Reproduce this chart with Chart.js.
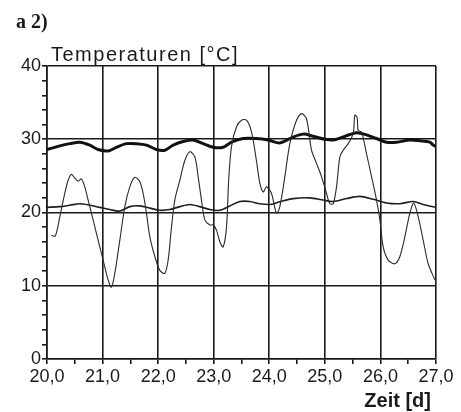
<!DOCTYPE html>
<html>
<head>
<meta charset="utf-8">
<script src="https://cdn.jsdelivr.net/npm/chart.js@4.4.1/dist/chart.umd.min.js"></script>
<style>
  html, body { margin: 0; padding: 0; background: #fff; }
  #wrap { width: 461px; height: 412px; position: relative; }
</style>
</head>
<body>
<div id="wrap"><canvas id="c" width="461" height="412"></canvas></div>
<script>
// ---- data ----
const panelLabel = 'a 2)';
const yTitle = 'Temperaturen [°C]';
const xTitle = 'Zeit [d]';

const xMin = 20, xMax = 27;
const yMin = 0, yMax = 40;

// thick line (~29-30 °C)
const roomDays = [20.0, 20.23, 20.41, 20.59, 20.77, 20.92, 21.10, 21.25, 21.43, 21.61, 21.79, 21.97, 22.12, 22.27, 22.45, 22.63, 22.81, 22.99, 23.17, 23.32, 23.53, 23.77, 23.98, 24.19, 24.40, 24.61, 24.79, 25.00, 25.15, 25.36, 25.57, 25.75, 25.93, 26.11, 26.29, 26.53, 26.71, 26.89, 26.95, 27.0];
const roomTemp = [28.6, 29.1, 29.4, 29.6, 29.2, 28.6, 28.4, 28.9, 29.4, 29.4, 29.2, 28.6, 28.5, 29.2, 29.7, 29.9, 29.4, 28.9, 28.9, 29.6, 30.1, 30.1, 29.9, 29.5, 30.2, 30.7, 30.4, 30.0, 29.9, 30.4, 30.9, 30.6, 30.1, 29.6, 29.6, 29.9, 29.8, 29.6, 29.2, 29.0];

// medium line (~20-22 °C)
const midDays = [20.0, 20.23, 20.41, 20.59, 20.77, 20.95, 21.13, 21.31, 21.49, 21.67, 21.85, 22.03, 22.21, 22.39, 22.57, 22.75, 22.93, 23.11, 23.29, 23.47, 23.65, 23.83, 24.02, 24.20, 24.43, 24.73, 24.97, 25.15, 25.39, 25.63, 25.87, 26.11, 26.35, 26.59, 26.77, 27.0];
const midTemp = [20.7, 20.8, 21.0, 21.2, 21.0, 20.7, 20.4, 20.2, 20.8, 20.9, 20.6, 20.3, 20.4, 20.8, 21.1, 20.8, 20.4, 20.3, 20.9, 21.5, 21.5, 21.2, 21.1, 21.5, 21.9, 22.0, 21.7, 21.5, 21.9, 22.2, 21.8, 21.3, 21.2, 21.5, 21.1, 20.7];

// thin line (strong daily swing)
const outDays = [20.08, 20.15, 20.23, 20.32, 20.38, 20.44, 20.50, 20.56, 20.62, 20.68, 20.74, 20.83, 20.92, 21.01, 21.10, 21.16, 21.22, 21.31, 21.40, 21.49, 21.58, 21.67, 21.73, 21.79, 21.85, 21.94, 22.03, 22.12, 22.18, 22.24, 22.30, 22.39, 22.48, 22.57, 22.66, 22.72, 22.78, 22.84, 22.93, 22.99, 23.05, 23.11, 23.17, 23.23, 23.27, 23.32, 23.41, 23.50, 23.59, 23.68, 23.77, 23.83, 23.89, 23.95, 24.04, 24.13, 24.19, 24.28, 24.37, 24.49, 24.58, 24.67, 24.76, 24.85, 24.94, 25.03, 25.09, 25.15, 25.21, 25.27, 25.33, 25.42, 25.51, 25.54, 25.58, 25.60, 25.66, 25.75, 25.84, 25.93, 25.99, 26.05, 26.14, 26.26, 26.35, 26.44, 26.53, 26.60, 26.68, 26.77, 26.86, 26.98];
const outTemp = [16.9, 16.8, 19.4, 22.6, 24.4, 25.2, 24.7, 24.3, 24.6, 23.5, 21.7, 19.0, 16.2, 13.5, 10.8, 9.8, 11.7, 16.2, 20.8, 23.5, 24.8, 24.2, 22.6, 19.9, 16.7, 14.0, 12.1, 11.7, 13.5, 18.0, 21.7, 24.4, 27.1, 28.3, 27.6, 24.9, 21.7, 19.0, 18.3, 18.3, 17.6, 16.0, 15.3, 18.0, 24.5, 29.0, 31.7, 32.6, 32.6, 31.0, 27.0, 24.0, 22.8, 23.5, 22.6, 19.9, 20.8, 24.9, 29.4, 32.6, 33.5, 32.8, 28.5, 26.7, 24.9, 22.6, 21.2, 21.2, 23.5, 27.6, 28.5, 29.4, 30.8, 33.3, 33.0, 31.2, 31.0, 28.0, 24.9, 21.7, 19.0, 15.3, 13.5, 13.0, 14.0, 16.7, 19.9, 21.3, 19.4, 16.2, 13.0, 10.8];

// ---- chart ----
const toPts = (xs, ys) => xs.map((x, i) => ({ x: x, y: ys[i] }));
const ink = '#1a1a1a';

const textPlugin = {
  id: 'texts',
  afterDraw(chart) {
    const ctx = chart.ctx;
    ctx.save();
    ctx.fillStyle = ink;
    ctx.textBaseline = 'alphabetic';
    ctx.textAlign = 'left';
    ctx.font = 'bold 20px "Liberation Serif", serif';
    ctx.fillText(panelLabel, 16, 28);
    ctx.font = '20px "Liberation Sans", Arial, sans-serif';
    ctx.letterSpacing = '1.5px';
    ctx.fillText(yTitle, 51, 61);
    ctx.letterSpacing = '0px';
    ctx.textAlign = 'right';
    ctx.font = 'bold 20px "Liberation Sans", Arial, sans-serif';
    ctx.fillText(xTitle, 431, 407);
    ctx.restore();
  }
};

const isMajorX = v => Math.abs(v - Math.round(v)) < 1e-6;
const isMajorY = v => Math.abs(v % 10) < 1e-6;

new Chart(document.getElementById('c'), {
  type: 'line',
  data: {
    datasets: [
      { data: toPts(outDays, outTemp), borderColor: '#2a2a2a', borderWidth: 1.1, pointRadius: 0, tension: 0.3, fill: false },
      { data: toPts(midDays, midTemp), borderColor: '#1e1e1e', borderWidth: 1.6, pointRadius: 0, tension: 0.3, fill: false },
      { data: toPts(roomDays, roomTemp), borderColor: '#111', borderWidth: 3, pointRadius: 0, tension: 0.3, fill: false }
    ]
  },
  options: {
    responsive: false,
    animation: false,
    devicePixelRatio: 1,
    layout: { padding: { top: 66, right: 25, left: 0, bottom: 0 } },
    plugins: { legend: { display: false }, tooltip: { enabled: false }, title: { display: false } },
    scales: {
      x: {
        type: 'linear', min: xMin, max: xMax,
        afterFit(s) { s.height = 53; },
        ticks: {
          stepSize: 0.5, autoSkip: false, maxRotation: 0, padding: 2,
          color: ink, font: { family: '"Liberation Sans", Arial, sans-serif', size: 18 },
          callback: v => isMajorX(v) ? v.toFixed(1).replace('.', ',') : ''
        },
        grid: {
          color: c => isMajorX(c.tick.value) ? ink : 'rgba(0,0,0,0)',
          tickColor: ink, lineWidth: 1.6, tickLength: 5, drawTicks: true
        },
        border: { display: true, color: ink, width: 1.6 }
      },
      y: {
        type: 'linear', min: yMin, max: yMax,
        afterFit(s) { s.width = 47; },
        ticks: {
          stepSize: 2, autoSkip: false, padding: 1,
          color: ink, font: { family: '"Liberation Sans", Arial, sans-serif', size: 18 },
          callback: v => isMajorY(v) ? String(v) : ''
        },
        grid: {
          color: c => isMajorY(c.tick.value) ? ink : 'rgba(0,0,0,0)',
          tickColor: ink, lineWidth: 1.6, tickLength: 5, drawTicks: true
        },
        border: { display: true, color: ink, width: 1.6 }
      }
    }
  },
  plugins: [textPlugin]
});
</script>
</body>
</html>
